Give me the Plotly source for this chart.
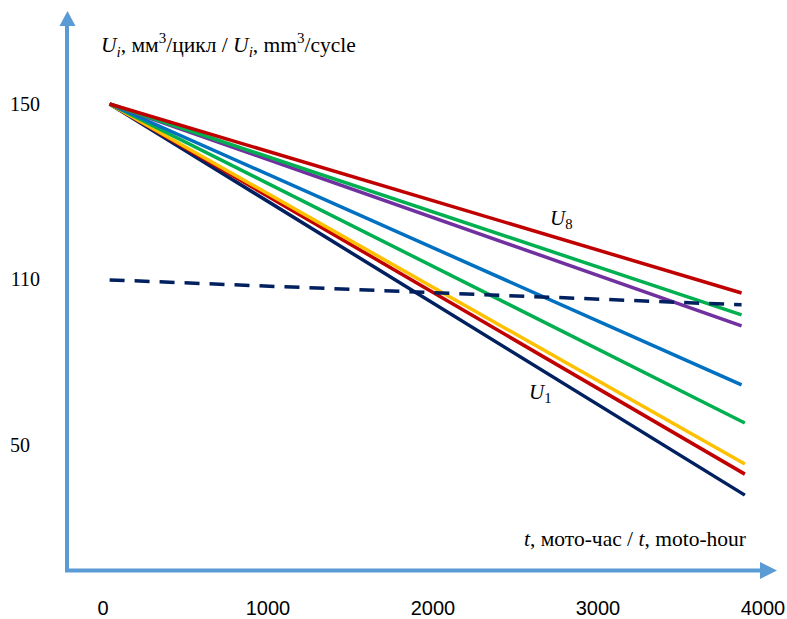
import plotly.graph_objects as go

# ---- data ----
T_START = [40, 40, 40, 40, 40, 40, 40, 40]
T_END = [3870, 3870, 3870, 3870, 3890, 3890, 3890, 3890]
U_START = [150, 150, 150, 150, 150, 150, 150, 150]
U_END = [106.8, 101.8, 99.3, 85.8, 77.1, 67.7, 65.4, 60.6]
LINE_COLORS = ["#C00000", "#00B050", "#7030A0", "#0070C0", "#00B050", "#FFC000", "#C00000", "#002060"]

DASH_T = [40, 3870]
DASH_U = [109.8, 104.1]

X_TICKS = [0, 1000, 2000, 3000, 4000]
X_TICK_TEXT = ["0", "1000", "2000", "3000", "4000"]
# schematic axis: tick labels are placed where the picture shows them
Y_TICK_POS = [150, 110, 72]
Y_TICK_TEXT = ["150", "110", "50\u00a0\u00a0"]

AXIS_COLOR = "#5B9BD5"
SERIF = "Liberation Serif"

fig = go.Figure()
order = list(range(len(U_END)))[::-1]
for i in order:
    fig.add_trace(go.Scatter(
        x=[T_START[i], T_END[i]], y=[U_START[i], U_END[i]],
        mode="lines", line=dict(color=LINE_COLORS[i], width=3.5),
        showlegend=False, hoverinfo="skip"))

fig.add_trace(go.Scatter(
    x=DASH_T, y=DASH_U, mode="lines",
    line=dict(color="#002060", width=3.5, dash="15px,10px"),
    showlegend=False, hoverinfo="skip"))

W, H = 787, 619
ML, MB = 67, 49
PW, PH = W - ML, H - MB

def px(xp):
    return (xp - ML) / PW

def py(yp):
    return (H - MB - yp) / PH

shapes = [
    dict(type="line", xref="paper", yref="paper", x0=px(67), x1=px(67),
         y0=py(572), y1=py(24), line=dict(color=AXIS_COLOR, width=4)),
    dict(type="path", xref="paper", yref="paper",
         path=f"M {px(59.5)} {py(26)} L {px(67.5)} {py(11)} L {px(75.5)} {py(26)} Z",
         fillcolor=AXIS_COLOR, line=dict(width=0)),
    dict(type="line", xref="paper", yref="paper", x0=px(65), x1=px(762),
         y0=py(570.5), y1=py(570.5), line=dict(color=AXIS_COLOR, width=4)),
    dict(type="path", xref="paper", yref="paper",
         path=f"M {px(760)} {py(562)} L {px(777)} {py(570.5)} L {px(760)} {py(579)} Z",
         fillcolor=AXIS_COLOR, line=dict(width=0)),
]

annotations = [
    dict(xref="paper", yref="paper", x=px(99), y=py(45), xanchor="left", yanchor="middle",
         text="<i>U<sub>i</sub></i>, мм<sup>3</sup>/цикл / <i>U<sub>i</sub></i>, mm<sup>3</sup>/cycle",
         showarrow=False, font=dict(family=SERIF, size=21.5, color="black")),
    dict(xref="paper", yref="paper", x=px(748), y=py(539), xanchor="right", yanchor="middle",
         text="<i>t</i>, мото-час / <i>t</i>, moto-hour",
         showarrow=False, font=dict(family=SERIF, size=21.5, color="black")),
    dict(x=2780, y=123.8, xanchor="center", yanchor="middle",
         text="<i>U</i><sub>8</sub>", showarrow=False,
         font=dict(family=SERIF, size=21, color="black")),
    dict(x=2650, y=84.0, xanchor="center", yanchor="middle",
         text="<i>U</i><sub>1</sub>", showarrow=False,
         font=dict(family=SERIF, size=21, color="black")),
]

x0 = (ML - 103) / 0.165
x1 = (W - 103) / 0.165
y_top = 150 + 104 / 4.375
y_bot = 150 - (H - MB - 104) / 4.375

fig.update_layout(
    width=W, height=H,
    margin=dict(l=ML, r=0, t=0, b=MB, pad=0),
    plot_bgcolor="white", paper_bgcolor="white",
    shapes=shapes, annotations=annotations,
    xaxis=dict(range=[x0, x1], showgrid=False, zeroline=False, showline=False,
               tickvals=X_TICKS, ticktext=X_TICK_TEXT, ticks="",
               ticklabelstandoff=24,
               tickfont=dict(family="Liberation Sans", size=20, color="black")),
    yaxis=dict(range=[y_bot, y_top], showgrid=False, zeroline=False, showline=False,
               tickvals=Y_TICK_POS, ticktext=Y_TICK_TEXT, ticks="",
               ticklabelstandoff=26,
               tickfont=dict(family=SERIF, size=20, color="black")),
)

fig.write_html("out.html")
